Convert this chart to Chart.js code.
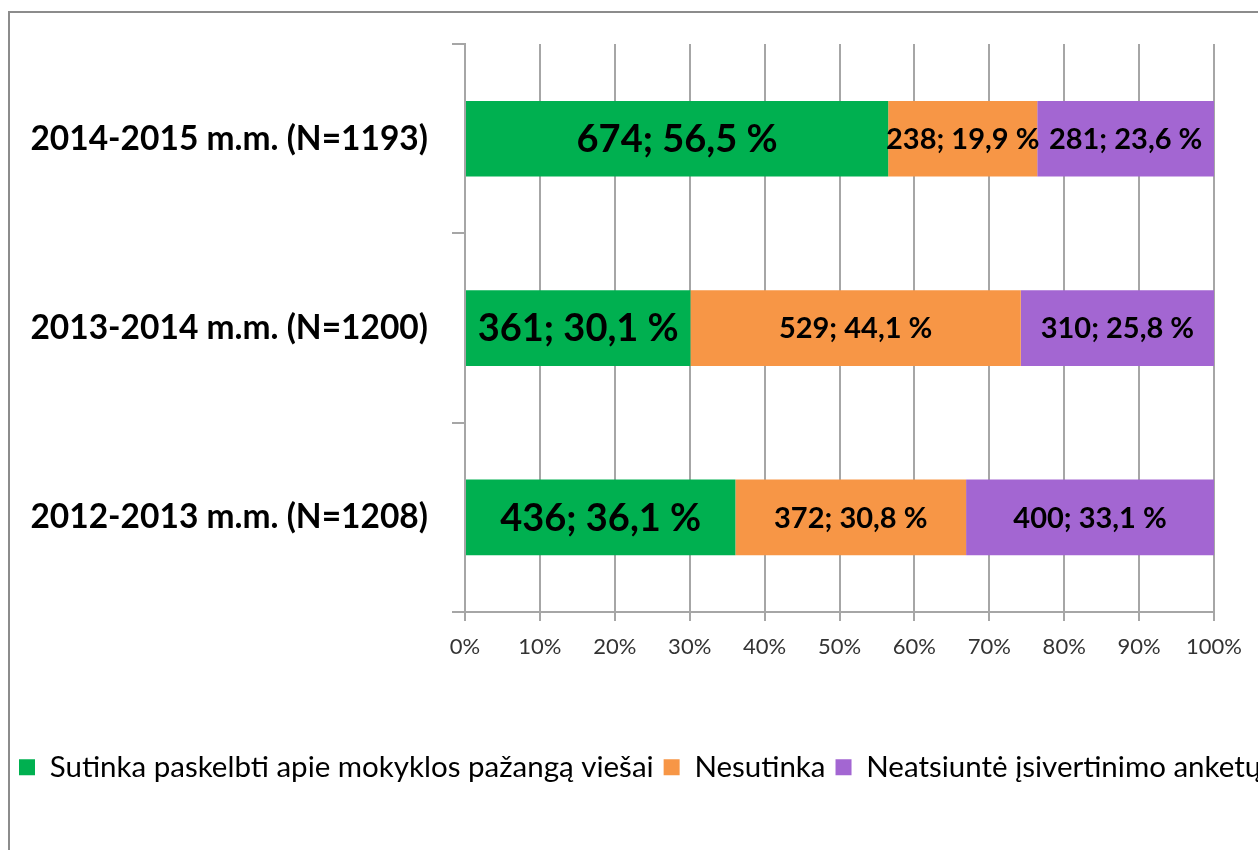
<!DOCTYPE html>
<html>
<head>
<meta charset="utf-8">
<script src="https://cdn.jsdelivr.net/npm/chart.js@4/dist/chart.umd.min.js"></script>
<style>
  html, body { margin: 0; padding: 0; background: #fff; overflow: hidden; width: 1258px; height: 850px; }
  #frame { position: absolute; left: 8px; top: 11px; width: 1500px; height: 1000px; border: 2px solid #8c8c8c; box-sizing: border-box; }
  #c { position: absolute; left: 0; top: 0; }
</style>
</head>
<body>
<div id="frame"></div>
<canvas id="c" width="1400" height="900"></canvas>
<script>
const categories = ['2014-2015 m.m. (N=1193)', '2013-2014 m.m. (N=1200)', '2012-2013 m.m. (N=1208)'];
const seriesNames = ['Sutinka paskelbti apie mokyklos pažangą viešai', 'Nesutinka', 'Neatsiuntė įsivertinimo anketų'];
const agreePct = [56.5, 30.1, 36.1];
const disagreePct = [19.9, 44.1, 30.8];
const noReplyPct = [23.6, 25.8, 33.1];
const agreeCount = [674, 361, 436];
const disagreeCount = [238, 529, 372];
const noReplyCount = [281, 310, 400];
const xTicks = [0, 10, 20, 30, 40, 50, 60, 70, 80, 90, 100];

const colors = ['#00B050', '#F79646', '#A366D2'];
const counts = [agreeCount, disagreeCount, noReplyCount];
const FONT = 'Lato, "Open Sans", sans-serif';
const GRID = '#A6A6A6';

const labelPlugin = {
  id: 'segLabels',
  afterDatasetsDraw(chart) {
    const ctx = chart.ctx;
    ctx.save();
    ctx.textAlign = 'center';
    ctx.textBaseline = 'middle';
    ctx.fillStyle = '#000';
    chart.data.datasets.forEach((ds, di) => {
      const meta = chart.getDatasetMeta(di);
      ctx.font = (di === 0 ? 'bold 38px ' : 'bold 29px ') + FONT;
      meta.data.forEach((el, i) => {
        const pct = ds.data[i].toFixed(1).replace('.', ',');
        const txt = counts[di][i] + '; ' + pct + ' %';
        const cx = (el.x + el.base) / 2;
        ctx.fillText(txt, cx, el.y + 1);
      });
    });
    ctx.restore();
  }
};

new Chart(document.getElementById('c'), {
  type: 'bar',
  data: {
    labels: categories,
    datasets: [
      { label: seriesNames[0], data: agreePct, backgroundColor: colors[0] },
      { label: seriesNames[1], data: disagreePct, backgroundColor: colors[1] },
      { label: seriesNames[2], data: noReplyPct, backgroundColor: colors[2] }
    ]
  },
  options: {
    indexAxis: 'y',
    responsive: false,
    animation: false,
    events: [],
    datasets: { bar: { categoryPercentage: 1, barPercentage: 0.4, borderWidth: 0 } },
    layout: { padding: { left: 9, top: 41, right: 10, bottom: 108 } },
    plugins: {
      tooltip: { enabled: false },
      legend: {
        position: 'bottom',
        align: 'start',
        labels: {
          font: { family: FONT, size: 29.5 },
          color: '#000',
          boxWidth: 16,
          boxHeight: 16,
          padding: 10
        }
      }
    },
    scales: {
      x: {
        stacked: true,
        min: 0, max: 100,
        afterBuildTicks: (s) => { s.ticks = xTicks.map(v => ({ value: v })); },
        ticks: {
          callback: (v) => v + '%',
          font: { family: FONT, size: 22 },
          color: '#333',
          padding: 13,
          maxRotation: 0
        },
        grid: { color: GRID, lineWidth: 2, tickLength: 9 },
        border: { color: GRID, width: 2 },
        afterFit: (s) => { s.height = 130.5; }
      },
      y: {
        stacked: true,
        ticks: {
          font: { family: FONT, size: 33.5, weight: 'bold' },
          color: '#000',
          padding: 24
        },
        grid: { color: GRID, lineWidth: 2, tickLength: 13, drawOnChartArea: false, offset: true },
        border: { color: GRID, width: 2 },
        afterFit: (s) => { s.width = 456; }
      },
      yRight: {
        type: 'category',
        position: 'right',
        display: true,
        ticks: { display: false },
        grid: { display: false },
        border: { display: false },
        afterFit: (s) => { s.width = 176; }
      }
    }
  },
  plugins: [labelPlugin]
});
</script>
</body>
</html>
